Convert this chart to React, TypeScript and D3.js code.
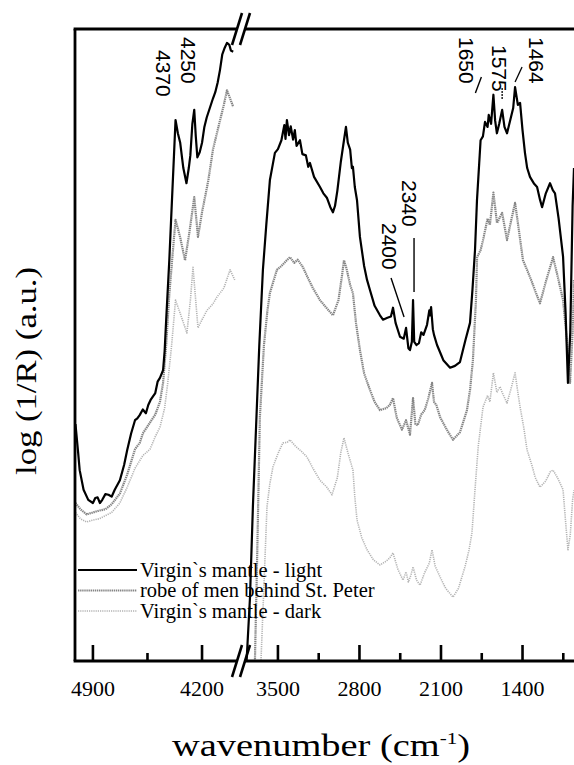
import React from "react";
import * as d3 from "d3";

// Spectra: [wavenumber (cm-1), log(1/R) in arbitrary units]
const lightLeft: [number, number][] = [
  [5012, 37.5], [4995, 33], [4985, 30.2], [4960, 27.1], [4930, 25.5], [4900, 25.0], [4885, 25.8],
  [4870, 25.9], [4855, 25], [4840, 25.5], [4820, 26.4], [4800, 26.3], [4780, 26], [4760, 27.1],
  [4727, 28.6], [4700, 31], [4680, 33.4], [4655, 36], [4630, 38.1], [4615, 38.4], [4600, 38.9],
  [4580, 39.8], [4560, 39.2], [4545, 40.5], [4530, 41.3], [4500, 42.4], [4485, 44.2], [4470, 44.8],
  [4450, 46], [4440, 49], [4430, 54], [4410, 63.4], [4390, 74.5], [4380, 80], [4370, 85.6],
  [4355, 83.5], [4340, 82], [4320, 78], [4300, 75.6], [4285, 78], [4275, 80], [4262, 85],
  [4250, 87.2], [4240, 83], [4230, 79.7], [4215, 80.5], [4200, 82], [4185, 84.5], [4170, 86],
  [4150, 87.5], [4130, 89], [4115, 90], [4100, 91.5], [4085, 93.5], [4070, 96], [4055, 97],
  [4040, 97.8], [4025, 97.5], [4015, 96.6], [4000, 96.4],
];
const robeLeft: [number, number][] = [
  [5012, 25], [4980, 24], [4940, 23.2], [4900, 23.5], [4860, 23.8], [4820, 24], [4780, 24.8],
  [4727, 26.5], [4680, 29.5], [4630, 33.5], [4600, 34.5], [4580, 36], [4540, 37.5], [4500, 39],
  [4470, 41], [4450, 44], [4430, 50], [4410, 58], [4390, 64], [4370, 69.8], [4340, 67],
  [4309, 63.4], [4280, 68], [4250, 73.4], [4226, 67.1], [4200, 71], [4160, 76], [4130, 80.9],
  [4090, 85], [4060, 88], [4040, 90.3], [4020, 89], [4000, 87.7],
];
const darkLeft: [number, number][] = [
  [5012, 23.5], [4980, 22.5], [4940, 22], [4900, 22.3], [4860, 22.5], [4820, 23], [4780, 23.5],
  [4727, 25], [4680, 27.5], [4630, 30.5], [4580, 32.5], [4534, 33.5], [4500, 35.5], [4470, 37],
  [4440, 40], [4420, 44], [4395, 50], [4370, 57.1], [4340, 55], [4297, 51.9], [4275, 57],
  [4258, 62.3], [4226, 52.7], [4200, 54], [4168, 55.5], [4130, 56.5], [4104, 57.6], [4060, 59],
  [4020, 61.9], [3990, 60.3],
];

const lightRight: [number, number][] = [
  [3775, -2], [3740, 10], [3715, 24.4], [3690, 36], [3660, 50], [3629, 61.9], [3600, 69],
  [3569, 76.1], [3545, 78.5], [3526, 80.4], [3500, 81], [3470, 82.4], [3445, 84.8], [3435, 82.6],
  [3423, 85.6], [3405, 83.2], [3390, 84.6], [3370, 82.5], [3355, 84], [3340, 81.5], [3311, 82.4],
  [3290, 80.2], [3260, 80], [3240, 78.2], [3225, 78.8], [3190, 76.6], [3139, 75], [3110, 74],
  [3080, 73.3], [3050, 71.8], [3028, 71], [3010, 72], [2990, 74.4], [2960, 79], [2933, 82.4],
  [2916, 84.5], [2900, 82], [2880, 80.9], [2865, 78], [2856, 78.2], [2840, 75], [2821, 72.9],
  [2796, 67.1], [2760, 62.5], [2735, 60.3], [2710, 58.7], [2670, 56.2], [2624, 54.7], [2598, 54],
  [2560, 54.3], [2530, 54.5], [2512, 55.9], [2490, 53.5], [2452, 51.3], [2420, 51], [2400, 52.7],
  [2380, 49.5], [2366, 49.2], [2350, 50.5], [2340, 57.1], [2330, 50.5], [2310, 50], [2289, 50.3],
  [2270, 52], [2250, 51.6], [2220, 53.2], [2200, 55.5], [2194, 54.7], [2185, 56], [2170, 52.5],
  [2160, 51.6], [2134, 50], [2100, 48.5], [2080, 47.6], [2022, 46.4], [1980, 46.7], [1937, 47.3],
  [1890, 50.8], [1851, 53.5], [1830, 58.7], [1808, 65], [1791, 72.9], [1760, 82.4], [1740, 83],
  [1722, 85.3], [1700, 84.5], [1690, 86.4], [1670, 85], [1650, 89.6], [1635, 85.5], [1620, 83.5],
  [1600, 85], [1575, 87.2], [1555, 84.5], [1533, 83.5], [1500, 86], [1480, 87.5], [1464, 90.8],
  [1440, 88], [1421, 88.3], [1400, 84], [1379, 80.4], [1360, 78], [1336, 76.6], [1300, 75.5],
  [1275, 75], [1250, 73], [1232, 71.8], [1200, 74], [1164, 75.6], [1140, 74.5], [1121, 74],
  [1090, 70], [1052, 64], [1030, 55], [1010, 44], [990, 52], [970, 72], [958, 78],
];
const robeRight: [number, number][] = [
  [3700, -2], [3680, 15], [3655, 38.6], [3620, 50], [3590, 55.5], [3569, 58.2], [3540, 60],
  [3509, 61.9], [3470, 62.5], [3430, 63.3], [3397, 63.9], [3360, 63], [3330, 63.5], [3285, 62.3],
  [3240, 60.5], [3200, 59], [3139, 57.1], [3080, 55.8], [3028, 54.7], [2980, 57.1], [2950, 61],
  [2933, 63.4], [2910, 62], [2880, 59.5], [2856, 58.2], [2830, 53.5], [2796, 49.2], [2760, 45.5],
  [2710, 42.9], [2670, 41], [2624, 39.7], [2570, 40], [2540, 40.5], [2512, 41.6], [2480, 38.5],
  [2435, 36.6], [2400, 38.1], [2366, 35.8], [2340, 41.6], [2320, 37.5], [2300, 37.3], [2270, 39],
  [2240, 39.7], [2210, 41.5], [2177, 44], [2160, 41], [2140, 40.5], [2108, 38.6], [2050, 36.6],
  [1997, 35], [1937, 36.2], [1877, 39.7], [1850, 43], [1826, 47.6], [1800, 57], [1790, 63.9],
  [1760, 65], [1739, 66.6], [1700, 70], [1680, 69], [1650, 74.1], [1619, 69.3], [1600, 70],
  [1575, 70.9], [1533, 66.6], [1500, 69.5], [1464, 72.5], [1430, 68], [1396, 63.4], [1361, 61.9],
  [1320, 60], [1290, 58.5], [1250, 56.6], [1200, 60], [1160, 62.5], [1138, 63.9], [1100, 61],
  [1052, 57.1], [1020, 51], [992, 44], [970, 52], [958, 60.3],
];
const darkRight: [number, number][] = [
  [3650, -2], [3620, 12], [3594, 24.4], [3570, 28], [3543, 30.7], [3500, 32.8], [3457, 34.5],
  [3420, 34.6], [3397, 35], [3350, 34], [3300, 33.2], [3251, 32.3], [3200, 30.5], [3139, 28.6],
  [3080, 27.5], [3036, 26.3], [2990, 29], [2960, 33], [2933, 35.3], [2900, 33], [2856, 30.2],
  [2840, 26], [2821, 22.3], [2780, 19.5], [2735, 17.6], [2680, 16], [2624, 15.2], [2570, 15.8],
  [2540, 16.3], [2512, 17.1], [2470, 14.5], [2426, 12.8], [2400, 14.1], [2380, 12.5], [2358, 13.6],
  [2340, 14.9], [2310, 12.8], [2280, 12], [2240, 14], [2200, 15.5], [2177, 17.6], [2150, 15],
  [2108, 13.3], [2060, 11.5], [1997, 10.1], [1950, 11.5], [1894, 14.9], [1860, 17.5], [1834, 20.3],
  [1808, 27.1], [1780, 34], [1739, 40.2], [1700, 42], [1680, 41], [1650, 45.6], [1620, 42.5],
  [1593, 43.4], [1575, 42.5], [1533, 40.8], [1500, 43], [1464, 45.6], [1440, 42.5], [1421, 40.2],
  [1390, 37], [1361, 33.4], [1320, 31], [1290, 29], [1250, 27.5], [1200, 28.5], [1160, 30],
  [1138, 30.2], [1100, 29], [1052, 27.1], [1030, 22], [1010, 17.6], [990, 20], [970, 25.5], [958, 27],
];

const seriesNames = ["Virgin`s mantle - light", "robe of men behind St. Peter", "Virgin`s mantle - dark"];

const leftMajorTicks = [4900, 4200];
const leftMinorTicks = [4550];
const rightMajorTicks = [3500, 2800, 2100, 1400];
const rightMinorTicks = [3150, 2450, 1750, 1050];

const leftPeakLabels = [4250, 4370];
const rightPeakLabels = [1650, 1575, 1464];
const midPeakLabels = [2340, 2400];

const W = 574;
const H = 765;
const left = 75;
const top = 29;
const bottom = 661;
const right = 574;
const breakX = 241;

const styles = [
  { stroke: "#000", width: 2.2, dash: "none" },
  { stroke: "#858585", width: 2.2, dash: "1.4,0.7" },
  { stroke: "#b3b3b3", width: 1.6, dash: "1.2,1" },
];

export default function App() {
  const xL = d3.scaleLinear().domain([5015, 3950]).range([left, breakX]);
  const xR = d3.scaleLinear().domain([3830, 958]).range([breakX - 1.5, right]);
  const y = d3.scaleLinear().domain([0, 100]).range([bottom, top]);

  const lineL = d3.line<[number, number]>().x((d) => xL(d[0])).y((d) => y(d[1]));
  const lineR = d3.line<[number, number]>().x((d) => xR(d[0])).y((d) => y(d[1]));

  const leftSets = [lightLeft, robeLeft, darkLeft];
  const rightSets = [lightRight, robeRight, darkRight];

  const serif = "'Liberation Serif', 'Times New Roman', serif";
  const sans = "'Liberation Sans', Arial, sans-serif";

  const slash = (cx: number, cy: number) => (
    <line x1={cx - 5} y1={cy + 16} x2={cx + 5} y2={cy - 16} stroke="#000" strokeWidth={2.6} />
  );

  return (
    <svg width={W} height={H} style={{ display: "block", position: "absolute", left: 0, top: 0 }}>
      <rect width={W} height={H} fill="#fff" />
      <defs>
        <clipPath id="plotArea">
          <rect x={left} y={top} width={right - left} height={bottom - top} />
        </clipPath>
      </defs>

      <g clipPath="url(#plotArea)">
        {[2, 1, 0].map((i) => (
          <g key={i}>
            <path d={lineL(leftSets[i]) ?? ""} fill="none" stroke={styles[i].stroke}
              strokeWidth={styles[i].width} strokeDasharray={styles[i].dash} strokeLinejoin="round" />
            <path d={lineR(rightSets[i]) ?? ""} fill="none" stroke={styles[i].stroke}
              strokeWidth={styles[i].width} strokeDasharray={styles[i].dash} strokeLinejoin="round" />
          </g>
        ))}
      </g>

      {/* frame */}
      <line x1={left} y1={top} x2={left} y2={bottom} stroke="#000" strokeWidth={2.8} />
      <line x1={left - 1.4} y1={top} x2={right} y2={top} stroke="#000" strokeWidth={2.8} />
      <line x1={left - 1.4} y1={bottom} x2={right} y2={bottom} stroke="#000" strokeWidth={2.8} />
      {/* axis break */}
      <rect x={breakX - 4} y={top - 3} width={8} height={6} fill="#fff" />
      <rect x={breakX - 4} y={bottom - 3} width={8} height={6} fill="#fff" />
      {slash(breakX - 4, top)}
      {slash(breakX + 4, top)}
      {slash(breakX - 4, bottom)}
      {slash(breakX + 4, bottom)}

      {/* ticks */}
      {leftMajorTicks.map((t) => (
        <line key={"lM" + t} x1={xL(t)} x2={xL(t)} y1={bottom} y2={bottom - 16} stroke="#000" strokeWidth={2.6} />
      ))}
      {leftMinorTicks.map((t) => (
        <line key={"lm" + t} x1={xL(t)} x2={xL(t)} y1={bottom} y2={bottom - 8} stroke="#000" strokeWidth={2.6} />
      ))}
      {rightMajorTicks.map((t) => (
        <line key={"rM" + t} x1={xR(t)} x2={xR(t)} y1={bottom} y2={bottom - 16} stroke="#000" strokeWidth={2.6} />
      ))}
      {rightMinorTicks.map((t) => (
        <line key={"rm" + t} x1={xR(t)} x2={xR(t)} y1={bottom} y2={bottom - 8} stroke="#000" strokeWidth={2.6} />
      ))}
      {leftMajorTicks.map((t) => (
        <text key={"lt" + t} x={xL(t)} y={696} textAnchor="middle" fontFamily={serif} fontSize={22}>{t}</text>
      ))}
      {rightMajorTicks.map((t) => (
        <text key={"rt" + t} x={xR(t)} y={696} textAnchor="middle" fontFamily={serif} fontSize={22}>{t}</text>
      ))}

      {/* axis titles */}
      <text x={172} y={756} fontFamily={serif} fontSize={31} textLength={298} lengthAdjust="spacingAndGlyphs">
        wavenumber (cm<tspan dy={-12} fontSize={17}>-1</tspan><tspan dy={12}>)</tspan>
      </text>
      <text transform={`translate(36, 475) rotate(-90)`} fontFamily={serif} fontSize={29}
        textLength={208} lengthAdjust="spacingAndGlyphs">
        log (1/R) (a.u.)
      </text>

      {/* peak labels */}
      {leftPeakLabels.map((p, i) => (
        <text key={"pl" + p} transform={`translate(${xL(p) - 6 - i * 6}, ${37 + i * 13}) rotate(90)`}
          fontFamily={sans} fontSize={21} dy="0.36em">{p}</text>
      ))}
      {rightPeakLabels.map((p, i) => {
        const offs = [-27, -3, 21][i];
        const y0 = [37, 45, 37][i];
        return (
          <text key={"pr" + p} transform={`translate(${xR(p) + offs}, ${y0}) rotate(90)`}
            fontFamily={sans} fontSize={21} dy="0.36em">{p}</text>
        );
      })}
      <line x1={xR(1650) - 18} y1={93} x2={xR(1650) - 12} y2={77} stroke="#000" strokeWidth={1.4} />
      <line x1={xR(1575)} y1={88} x2={xR(1575)} y2={100} stroke="#000" strokeWidth={1.3} strokeDasharray="2,1" />
      <line x1={xR(1464) + 7} y1={67} x2={xR(1464)} y2={82} stroke="#000" strokeWidth={1.3} />
      {midPeakLabels.map((p, i) => {
        const cx = i === 0 ? xR(p) - 3 : xR(p) - 16;
        const y0 = i === 0 ? 180 : 223;
        return (
          <text key={"pm" + p} transform={`translate(${cx}, ${y0}) rotate(90)`}
            fontFamily={sans} fontSize={21} dy="0.36em">{p}</text>
        );
      })}
      <line x1={xR(2340) + 1} y1={238} x2={xR(2340) + 1} y2={292} stroke="#000" strokeWidth={1.4} />
      <line x1={xR(2400) - 15} y1={278} x2={xR(2400) - 2} y2={317} stroke="#000" strokeWidth={1.4} />

      {/* legend */}
      {seriesNames.map((name, i) => (
        <g key={name} transform={`translate(0, ${570 + i * 20.5})`}>
          <line x1={78} x2={137} y1={0} y2={0} stroke={styles[i].stroke} strokeWidth={styles[i].width}
            strokeDasharray={styles[i].dash} />
          <text x={140} y={6.5} fontFamily={serif} fontSize={20.5}>{name}</text>
        </g>
      ))}
    </svg>
  );
}
